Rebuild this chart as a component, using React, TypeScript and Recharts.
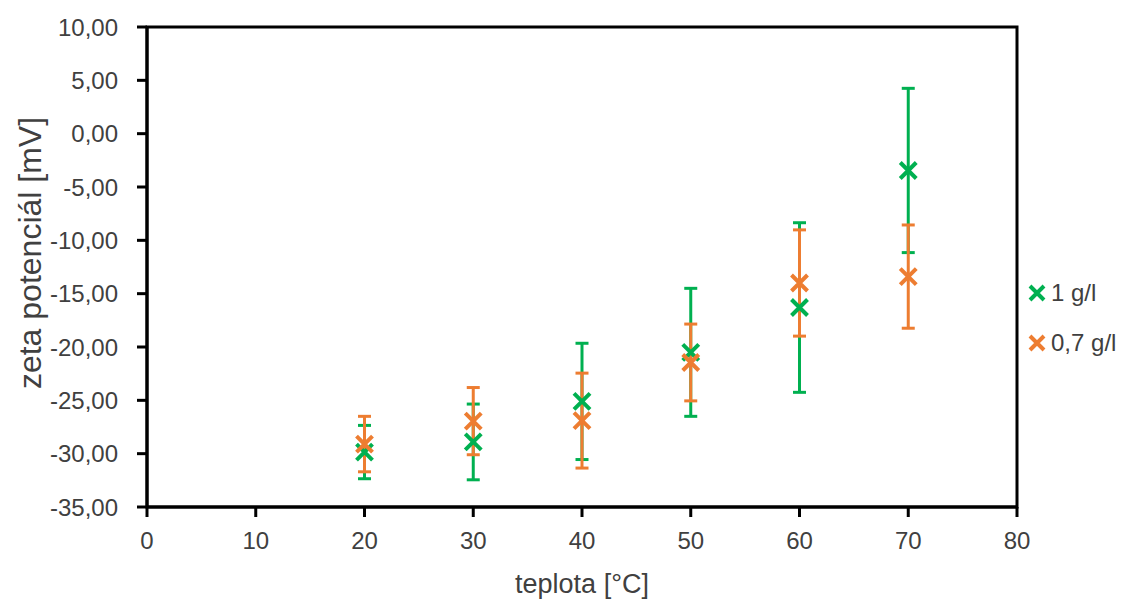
import { ScatterChart, Scatter, XAxis, YAxis, ErrorBar, Legend, ReferenceArea } from 'recharts';

const temps = [20, 30, 40, 50, 60, 70];
const zeta1 = [-29.85, -28.9, -25.1, -20.5, -16.3, -3.45];
const err1 = [2.5, 3.55, 5.45, 6.0, 7.95, 7.7];
const zeta07 = [-29.1, -26.95, -26.9, -21.45, -14.0, -13.4];
const err07 = [2.6, 3.15, 4.45, 3.6, 4.98, 4.84];
const xTicks = [0, 10, 20, 30, 40, 50, 60, 70, 80];
const yTicks = [-35, -30, -25, -20, -15, -10, -5, 0, 5, 10];

const GREEN = '#00B050';
const ORANGE = '#ED7D31';
const FONT = '"Liberation Sans", Arial, sans-serif';
const TEXT = '#404040';

const series1 = temps.map((t, i) => ({ x: t, y: zeta1[i], err: err1[i] }));
const series07 = temps.map((t, i) => ({ x: t, y: zeta07[i], err: err07[i] }));

function fmt(v: number) {
  return v.toFixed(2).replace('.', ',');
}

function cross(color: string) {
  return (p: any) => {
    const s = 8;
    return (
      <path
        d={`M${p.cx - s},${p.cy - s}L${p.cx + s},${p.cy + s}M${p.cx - s},${p.cy + s}L${p.cx + s},${p.cy - s}`}
        stroke={color}
        strokeWidth={4}
        fill="none"
      />
    );
  };
}

function LegendBox() {
  const items = [
    { label: '1 g/l', color: GREEN },
    { label: '0,7 g/l', color: ORANGE },
  ];
  return (
    <div style={{ fontFamily: FONT, fontSize: 24, color: TEXT }}>
      {items.map((it) => (
        <div key={it.label} style={{ display: 'flex', alignItems: 'center', height: 50 }}>
          <svg width={18} height={18} style={{ marginRight: 5 }}>
            <path d="M2,2L16,16M2,16L16,2" stroke={it.color} strokeWidth={4} />
          </svg>
          <span>{it.label}</span>
        </div>
      ))}
    </div>
  );
}

export default function App() {
  return (
    <div style={{ position: 'absolute', left: 0, top: 0 }}>
      <ScatterChart width={1122} height={601} margin={{ top: 27, right: 105, bottom: 0, left: 0 }}>
        <XAxis
          type="number"
          dataKey="x"
          domain={[0, 80]}
          ticks={xTicks}
          stroke="#000"
          strokeWidth={3}
          tickSize={10}
          tickMargin={15}
          height={94}
          tick={{ fill: TEXT, fontSize: 24, fontFamily: FONT }}
          label={{ value: 'teplota [°C]', position: 'insideBottom', offset: 8, fill: TEXT, fontSize: 27, fontFamily: FONT }}
        />
        <YAxis
          type="number"
          dataKey="y"
          domain={[-35, 10]}
          ticks={yTicks}
          tickFormatter={fmt}
          stroke="#000"
          strokeWidth={3}
          tickSize={10}
          tickMargin={19}
          width={147}
          tick={{ fill: TEXT, fontSize: 24, fontFamily: FONT }}
          label={{ value: 'zeta potenciál [mV]', angle: -90, position: 'insideLeft', offset: 30, dy: -14, textAnchor: 'middle', fill: TEXT, fontSize: 32, fontFamily: FONT }}
        />
        <ReferenceArea x1={0} x2={80} y1={-35} y2={10} fill="none" stroke="#000" strokeWidth={3} />
        <Scatter data={series1} shape={cross(GREEN)} isAnimationActive={false}>
          <ErrorBar dataKey="err" direction="y" width={6.5} stroke={GREEN} strokeWidth={3} isAnimationActive={false} />
        </Scatter>
        <Scatter data={series07} shape={cross(ORANGE)} isAnimationActive={false}>
          <ErrorBar dataKey="err" direction="y" width={6.5} stroke={ORANGE} strokeWidth={3} isAnimationActive={false} />
        </Scatter>
        <Legend
          layout="vertical"
          align="center"
          verticalAlign="middle"
          wrapperStyle={{ left: 1028, top: 268, width: 94 }}
          content={() => <LegendBox />}
        />
      </ScatterChart>
    </div>
  );
}
